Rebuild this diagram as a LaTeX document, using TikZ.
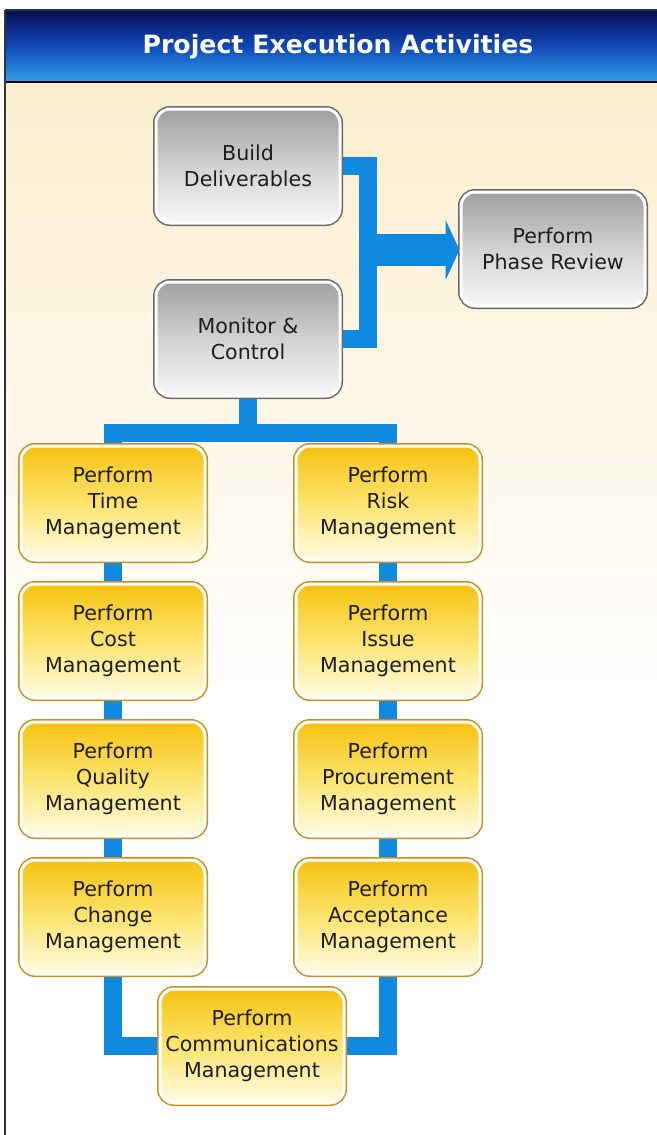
\documentclass[tikz,border=0pt]{standalone}
\usepackage{fontspec}
\setmainfont{DejaVu Sans}
\usepackage{xcolor}
\usepackage{tikz}
\usetikzlibrary{positioning, arrows.meta}

\definecolor{linkblue}{RGB}{16,138,224}
\definecolor{headtop}{RGB}{6,14,84}
\definecolor{headmid}{RGB}{16,72,184}
\definecolor{headbot}{RGB}{48,162,234}
\definecolor{cream}{RGB}{252,238,206}
\definecolor{graytop}{RGB}{160,160,160}
\definecolor{graymid}{RGB}{210,210,210}
\definecolor{graybot}{RGB}{248,248,248}
\definecolor{grayedge}{RGB}{105,105,105}
\definecolor{goldtop}{RGB}{246,194,16}
\definecolor{goldmid}{RGB}{252,228,110}
\definecolor{goldbot}{RGB}{255,252,230}
\definecolor{goldedge}{RGB}{206,140,24}
\definecolor{textgray}{RGB}{30,30,30}

\pgfdeclarelayer{backdrop}
\pgfdeclarelayer{links}
\pgfsetlayers{backdrop,links,main}

\begin{document}
\begin{tikzpicture}[x=0.5pt, y=-0.5pt, node distance=10.5pt,
    box/.style={rectangle, rounded corners=7pt, minimum width=92pt, minimum height=57pt, align=center, inner sep=1pt, font=\fontsize{10.3}{13}\selectfont, text=textgray, draw=white, line width=1.5pt},
    graybox/.style={box, top color=graytop, bottom color=graybot, middle color=graymid, preaction={draw=grayedge, line width=3pt}},
    goldbox/.style={box, top color=goldtop, bottom color=goldbot, middle color=goldmid, preaction={draw=goldedge, line width=3pt}},
    link/.style={draw=linkblue, line width=9pt},
    bigarrow/.style={draw=linkblue, line width=16pt, -{Triangle[length=7pt, width=30pt]}}]

    \useasboundingbox (0,0) rectangle (657,1135);

    % header and page
    \begin{pgfonlayer}{backdrop}
        \fill[white] (0,0) rectangle (657,1135);
        \shade[top color=cream, bottom color=white] (5,82) rectangle (657,700);
        \fill[white] (5,700) rectangle (657,1135);
        \shade[top color=headtop, bottom color=headbot, middle color=headmid] (5,10) rectangle (657,82);
        \draw[black, line width=1pt] (5,82) -- (657,82);
        \draw[black!80, line width=1pt] (5,10) -- (657,10);
        \draw[black!80, line width=1pt] (5,10) -- (5,1135);
    \end{pgfonlayer}
    \node[text=white, font=\fontsize{12.6}{15}\selectfont\bfseries] (title) at (338,47) {Project Execution Activities};

    % top part
    \node[graybox] (build) at (248,166) {Build\\Deliverables};
    \node[graybox, below=28pt of build] (monitor) {Monitor \&\\Control};
    \node[graybox] (review) at (553,249) {Perform\\Phase Review};

    % two columns
    \node[goldbox] (time) at (113,503) {Perform\\Time\\Management};
    \node[goldbox, right=44pt of time] (risk) {Perform\\Risk\\Management};
    \node[goldbox, below=of time] (cost) {Perform\\Cost\\Management};
    \node[goldbox, below=of risk] (issue) {Perform\\Issue\\Management};
    \node[goldbox, below=of cost] (quality) {Perform\\Quality\\Management};
    \node[goldbox, below=of issue] (procure) {Perform\\Procurement\\Management};
    \node[goldbox, below=of quality] (change) {Perform\\Change\\Management};
    \node[goldbox, below=of procure] (accept) {Perform\\Acceptance\\Management};
    \node[goldbox] (comm) at (252,1046) {Perform\\Communications\\Management};

    \coordinate (join) at (368,250);

    \begin{pgfonlayer}{links}
        \path[link] (build.east) -| (join) |- (monitor.east);
        \path[bigarrow] (join) -- (join -| review.west);
        \path[link] (monitor.south) -- ++(0,35) -| (time.north);
        \path[link] (monitor.south) -- ++(0,35) -| (risk.north);
        \path[link] (time) -- (cost);
        \path[link] (cost) -- (quality);
        \path[link] (quality) -- (change);
        \path[link] (risk) -- (issue);
        \path[link] (issue) -- (procure);
        \path[link] (procure) -- (accept);
        \path[link] (change.south) |- (comm.west);
        \path[link] (accept.south) |- (comm.east);
    \end{pgfonlayer}
\end{tikzpicture}
\end{document}
